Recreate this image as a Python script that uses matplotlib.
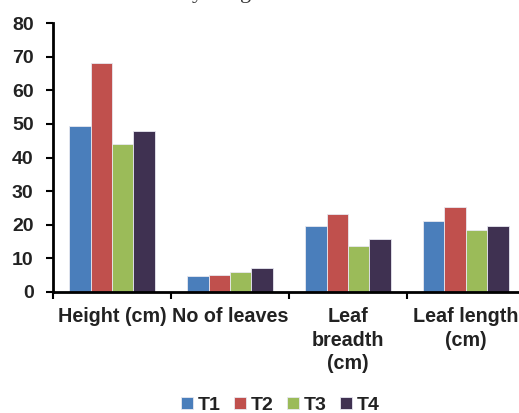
import numpy as np
import matplotlib
matplotlib.use("Agg")
import matplotlib.pyplot as plt

plt.rcParams['font.family'] = ['Liberation Sans', 'DejaVu Sans']

categories = ["Height (cm)", "No of leaves", "Leaf\nbreadth\n(cm)", "Leaf length\n(cm)"]
series = ["T1", "T2", "T3", "T4"]
t1 = [49.3, 4.8, 19.7, 21.1]
t2 = [68.0, 5.2, 23.3, 25.3]
t3 = [44.0, 5.8, 13.8, 18.5]
t4 = [48.0, 7.1, 15.7, 19.6]
colors = ["#4a7ebb", "#c0504d", "#9bbb59", "#3f3151"]

fig = plt.figure(figsize=(5.19, 4.13), dpi=100)
ax = fig.add_axes([0.1021, 0.293, 0.9094, 0.651])

x = np.arange(len(categories))
w = 0.182
for i, (name, vals) in enumerate(zip(series, [t1, t2, t3, t4])):
    ax.bar(x + (i - 1.5) * w, vals, w, color=colors[i], label=name,
           edgecolor="#e8e8f0", linewidth=0.6)

ax.set_xlim(-0.5, 3.5)
ax.set_ylim(0, 80)
ax.set_yticks(range(0, 81, 10))
ax.set_xticks(np.arange(-0.5, 3.5, 1.0))
ax.set_xticklabels([])
ax.set_xticks(x, minor=True)
ax.set_xticklabels(categories, minor=True, fontsize=14.2, fontweight="bold",
                   va="top", linespacing=1.3)
ax.tick_params(axis="x", which="minor", length=0, pad=11)
ax.tick_params(axis="x", which="major", length=5, width=1.5, direction="out")
ax.tick_params(axis="y", length=5, width=1.5, labelsize=14, pad=9)
for lab in ax.get_yticklabels():
    lab.set_fontweight("bold")
    lab.set_color("#222222")
for lab in ax.get_xticklabels(minor=True):
    lab.set_color("#222222")

ax.spines["top"].set_visible(False)
ax.spines["right"].set_visible(False)
ax.spines["left"].set_linewidth(2)
ax.spines["bottom"].set_linewidth(2)

leg = fig.legend(loc="lower center", bbox_to_anchor=(0.54, -0.045), ncol=4,
                 frameon=False, handlelength=0.6, handleheight=0.6,
                 handletextpad=0.25, columnspacing=0.7,
                 prop={"weight": "bold", "size": 14})
for t in leg.get_texts():
    t.set_color("#222222")

# descenders of the caption line above the chart
fig.text(192 / 519, 1.0 + 2 / 413, "y", fontsize=16, family="Liberation Serif",
         ha="left", va="baseline", color="#333333")
fig.text(240 / 519, 1.0 + 2 / 413, "g", fontsize=16, family="Liberation Serif",
         ha="left", va="baseline", color="#333333")

fig.savefig("out.png", dpi=100)
